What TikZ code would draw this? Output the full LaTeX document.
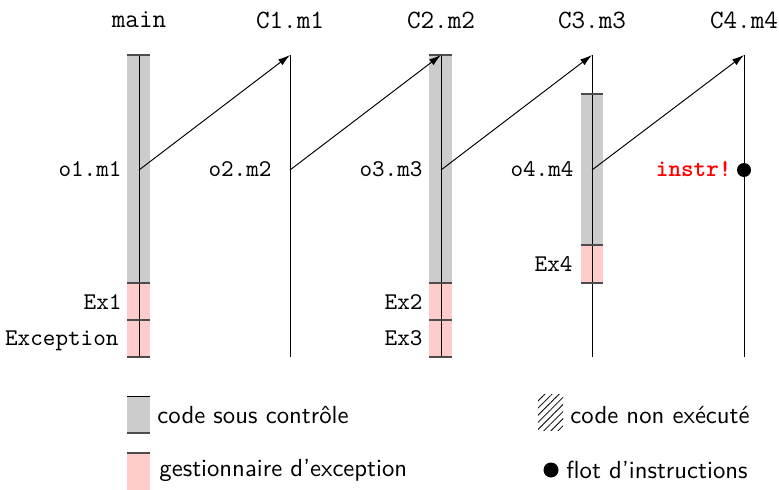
\documentclass[tikz,border=0pt]{standalone}
\usetikzlibrary{arrows.meta,patterns.meta}
\definecolor{ctrlgray}{HTML}{CCCCCC}
\definecolor{handpink}{HTML}{FFCCCC}
\definecolor{instrred}{HTML}{FF0000}
\tikzset{
  ctrl/.style={fill=ctrlgray},
  handler/.style={fill=handpink},
  life/.style={draw=black, line width=0.4pt},
  tick/.style={draw=black!70, line width=0.7pt},
  call/.style={draw=black, line width=0.4pt, -{Latex[length=5pt,width=3pt]}},
  head/.style={font=\fontsize{11}{13}\selectfont\ttfamily, inner sep=0pt},
  lbl/.style={font=\ttfamily, inner sep=0pt, anchor=base east},
  leg/.style={font=\fontsize{10.3}{12}\selectfont\sffamily, inner sep=0pt, anchor=west},
}
\begin{document}
\begin{tikzpicture}[x=0.4167pt,y=-0.4167pt]
\useasboundingbox (0,0) rectangle (779,490);
% column coordinates
\foreach \i/\x in {0/139,1/290,2/441,3/592,4/744}{
  \coordinate (t\i) at (\x,55);
  \coordinate (b\i) at (\x,357);
  \coordinate (s\i) at (\x,170);
}
% headings
\node[head] (h0) at (139,20) {main};
\node[head] (h1) at (290,20) {C1.m1};
\node[head] (h2) at (441,20) {C2.m2};
\node[head] (h3) at (592,20) {C3.m3};
\node[head] (h4) at (744,20) {C4.m4};
% bars
\fill[ctrl] (127,55) rectangle (150,283);
\fill[handler] (127,283) rectangle (150,357);
\fill[ctrl] (429,55) rectangle (452,283);
\fill[handler] (429,283) rectangle (452,357);
\fill[ctrl] (581,94) rectangle (603,245);
\fill[handler] (581,245) rectangle (603,283);
% life lines
\foreach \i in {0,...,4}{ \draw[life] (t\i) -- (b\i); }
% ticks
\foreach \y in {55,283,320,357}{
  \draw[tick] (127,\y) -- (150,\y);
  \draw[tick] (429,\y) -- (452,\y);
}
\foreach \y in {94,245,283}{ \draw[tick] (581,\y) -- (603,\y); }
% calls
\draw[call] (s0) -- (t1);
\draw[call] (s1) -- (t2);
\draw[call] (s2) -- (t3);
\draw[call] (s3) -- (t4);
% labels
\node[lbl] (o1) at (122,177) {o1.m1};
\node[lbl] (o2) at (272,177) {o2.m2};
\node[lbl] (o3) at (423,177) {o3.m3};
\node[lbl] (o4) at (574,177) {o4.m4};
\node[lbl] (ex1) at (122,309) {Ex1};
\node[lbl] (exc) at (119,346) {Exception};
\node[lbl] (ex2) at (423,309) {Ex2};
\node[lbl] (ex3) at (423,346) {Ex3};
\node[lbl] (ex4) at (573,272) {Ex4};
\node[lbl, font=\ttfamily\bfseries, text=instrred] (instr) at (732,177) {instr!};
\fill[black] (s4) circle (7);
% legend
\fill[ctrl] (127,396) rectangle (150,433);
\draw[life] (127,396) -- (150,396);
\draw[tick] (127,433) -- (150,433);
\node[leg] (l1) at (157,415) {code sous contrôle};
\fill[handler] (127,453) rectangle (150,490);
\draw[tick] (127,453) -- (150,453);
\node[leg] (l2) at (159,470) {gestionnaire d'exception};
\fill[pattern={Lines[angle=45,distance=2.1pt,line width=0.35pt]}] (538,394) rectangle (563,430);
\node[leg] (l3) at (570,415) {code non exécuté};
\fill[black] (551,470) circle (7.5);
\node[leg] (l4) at (566,470) {flot d'instructions};
\end{tikzpicture}
\end{document}
